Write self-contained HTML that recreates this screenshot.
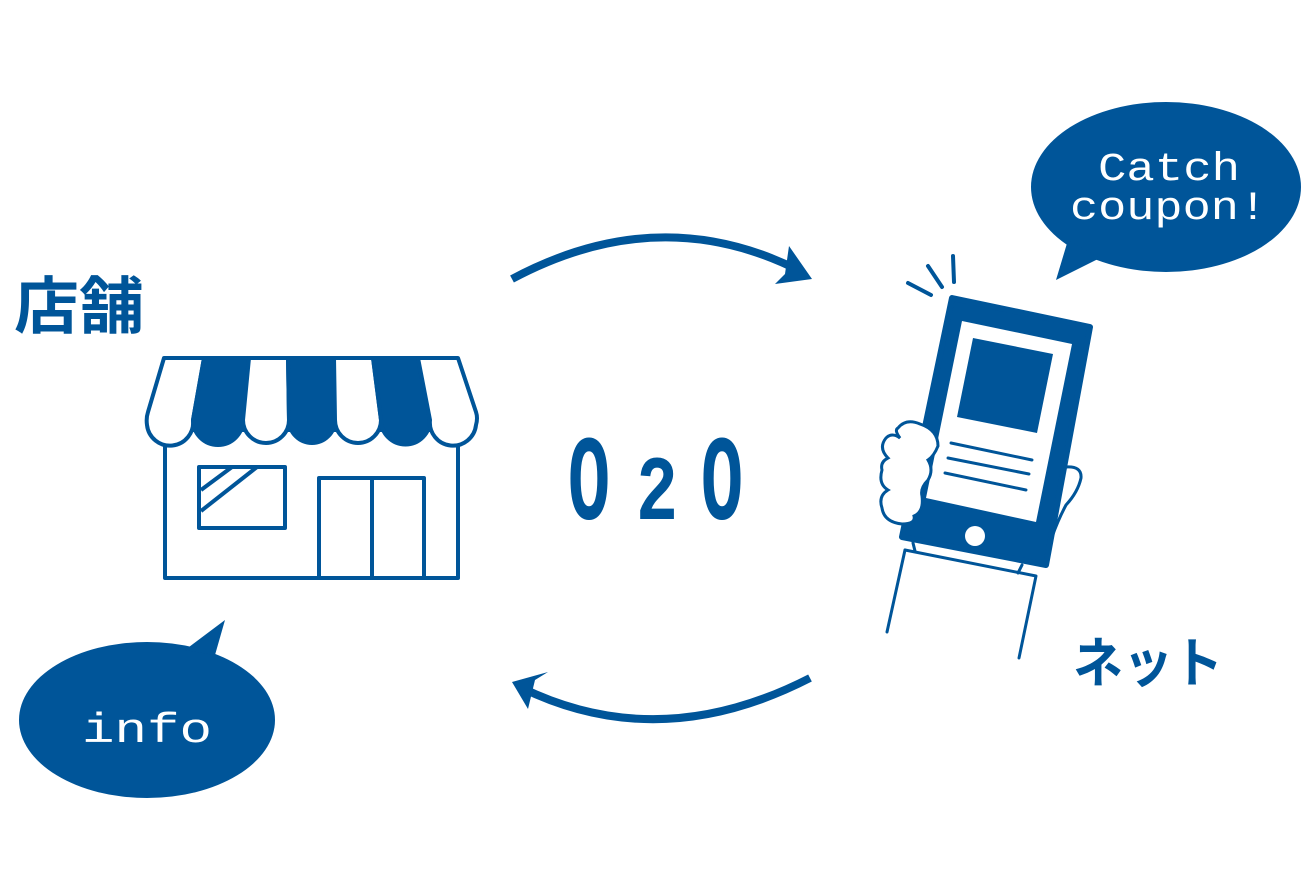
<!DOCTYPE html>
<html><head><meta charset="utf-8"><style>
html,body{margin:0;padding:0;background:#fff;}
svg{display:block;}
</style></head><body>
<svg width="1314" height="875" viewBox="0 0 1314 875" xmlns="http://www.w3.org/2000/svg">
<g fill="none" stroke="#005599" stroke-linecap="round" stroke-linejoin="round">
<path d="M512,279 Q660,200 800,271" stroke-width="8" stroke-linecap="butt"/>
<path d="M810,678 Q660,755 522,688" stroke-width="8" stroke-linecap="butt"/>
</g>
<polygon points="789,246 812,279 775,284 785,274" fill="#005599"/>
<polygon points="512,682 548,672 535,680 528,709" fill="#005599"/>

<!-- store -->
<g stroke="#005599" stroke-width="4" stroke-linejoin="round" fill="#fff">
<rect x="165" y="430" width="293" height="148"/>
<rect x="199" y="467" width="86" height="61"/>
<rect x="319" y="478" width="105" height="100"/>
<line x1="372" y1="478" x2="372" y2="578"/>
<line x1="201" y1="490" x2="232" y2="467"/>
<line x1="201" y1="511" x2="257" y2="467"/>
<path d="M164,358 L204,358 L193,420 A23,23 0 0 1 147,425 Q146,418 148,412 Z"/>
<path d="M204,358 L249,358 L243,420 A23,23 0 0 1 193,420 Z" fill="#005599"/>
<path d="M249,358 L288,358 L289,420 A23,23 0 0 1 243,420 Z"/>
<path d="M288,358 L334,358 L335,420 A23,23 0 0 1 289,420 Z" fill="#005599"/>
<path d="M334,358 L373,358 L381,420 A23,23 0 0 1 335,420 Z"/>
<path d="M373,358 L418,358 L430,420 A24,24 0 0 1 381,420 Z" fill="#005599"/>
<path d="M418,358 L458,358 L476,412 Q478,418 476,425 A23,23 0 0 1 430,420 Z"/>
</g>

<!-- phone -->
<g stroke="#005599" stroke-linecap="round" stroke-linejoin="round" fill="none">
<line x1="908" y1="283" x2="931" y2="295" stroke-width="4"/>
<line x1="928" y1="266" x2="942" y2="287" stroke-width="4"/>
<line x1="953" y1="256" x2="954" y2="282" stroke-width="4"/>
<path d="M905,550 L887,632" stroke-width="3"/>
<path d="M905,550 L1036,576 L1019,658" stroke-width="3"/>
<line x1="913" y1="543" x2="915" y2="551" stroke-width="3"/>
<line x1="1022" y1="565" x2="1018" y2="573" stroke-width="3"/>
<path d="M1066,467 Q1082,466 1081,478 Q1078,492 1066,505 Q1058,520 1052,537" stroke-width="3"/>
</g>
<polygon points="952,298 1090,327 1046,565 902,537" fill="#005599" stroke="#005599" stroke-width="6" stroke-linejoin="round"/>
<polygon points="962,321 1072,344 1036,522 926,498" fill="#fff"/>
<polygon points="973,338 1053,354 1037,433 957,417" fill="#005599"/>
<g stroke="#005599" stroke-width="3" stroke-linecap="round">
<line x1="951" y1="443" x2="1032" y2="460"/>
<line x1="948" y1="458" x2="1029" y2="474"/>
<line x1="945" y1="473" x2="1026" y2="490"/>
</g>
<circle cx="975" cy="536" r="10" fill="#fff"/>
<path d="M898,428 Q906,418 920,424 Q938,430 938,446 Q934,456 928,460 Q934,470 928,480 Q920,488 922,496 Q924,512 914,516 Q916,524 902,524 Q884,522 882,508 Q878,496 888,490 Q878,484 882,470 Q880,462 888,458 Q878,448 886,438 Q892,432 900,438 Q894,430 898,428 Z" fill="#fff" stroke="#005599" stroke-width="3"/>

<!-- bubbles -->
<ellipse cx="1166" cy="187" rx="135" ry="85" fill="#005599"/>
<polygon points="1068,240 1056,280 1100,258" fill="#005599"/>
<ellipse cx="147" cy="720" rx="128" ry="78" fill="#005599"/>
<polygon points="185,650 225,620 215,655" fill="#005599"/>

<g font-family="'Liberation Mono', monospace">
<text x="1098" y="180" fill="#fff" font-size="40" textLength="142" lengthAdjust="spacingAndGlyphs">Catch</text>
<text x="1070" y="219" fill="#fff" font-size="40" textLength="197" lengthAdjust="spacingAndGlyphs">coupon!</text>
<text x="82" y="742" fill="#fff" font-size="42" textLength="130" lengthAdjust="spacingAndGlyphs">info</text>
<text x="568" y="519" fill="#005599" font-size="122" font-weight="bold" textLength="42" lengthAdjust="spacingAndGlyphs">O</text>
<text x="636" y="519" fill="#005599" font-size="92" font-weight="bold" textLength="42" lengthAdjust="spacingAndGlyphs">2</text>
<text x="701" y="519" fill="#005599" font-size="122" font-weight="bold" textLength="42" lengthAdjust="spacingAndGlyphs">O</text>
</g>
<g font-family="'Liberation Sans','Noto Sans CJK JP',sans-serif" fill="#005599" font-weight="bold">
<text x="14" y="328" font-size="62" textLength="130" lengthAdjust="spacingAndGlyphs">店舗</text>
<text x="1073" y="682" font-size="54" textLength="150" lengthAdjust="spacingAndGlyphs">ネット</text>
</g>
</svg>
</body></html>
